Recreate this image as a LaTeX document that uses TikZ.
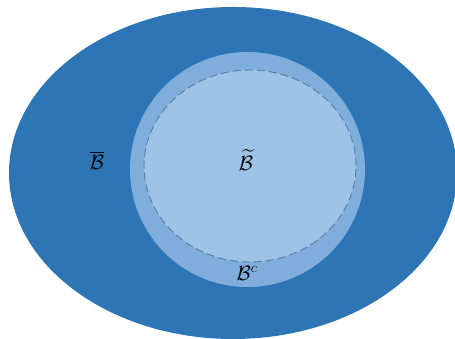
\documentclass[tikz,border=0pt]{standalone}
\usepackage{amsmath}
\usepackage{amssymb}
\usepackage{xcolor}
\definecolor{setdark}{HTML}{2E75B6}
\definecolor{setmid}{HTML}{7FAEDD}
\definecolor{setlight}{HTML}{9DC3E6}
\definecolor{setedge}{HTML}{5B7C9E}
\tikzset{
    setlabel/.style={font=\fontsize{22}{26}\selectfont, inner sep=0pt}
}

\begin{document}
\begin{tikzpicture}[x=1pt, y=1pt]
    \useasboundingbox (0,0) rectangle (455,339);

    % Regions
    \fill[setdark] (233,166) ellipse [x radius=224, y radius=166];
    \fill[setmid] (247.5,169.5) circle [radius=117.5];
    \fill[setlight] (250,173) ellipse [x radius=106, y radius=96];
    \draw[setedge, dashed, dash pattern=on 8pt off 4pt, line width=0.9pt] (250,173) ellipse [x radius=106, y radius=96];

    % Labels
    \node[setlabel] (outerlbl) at (97,179) {$\overline{\mathcal{B}}$};
    \node[setlabel] (innerlbl) at (246,179) {$\widetilde{\mathcal{B}}$};
    \node[setlabel] (ringlbl) at (247,66) {$\mathcal{B}^{c}$};
\end{tikzpicture}
\end{document}
